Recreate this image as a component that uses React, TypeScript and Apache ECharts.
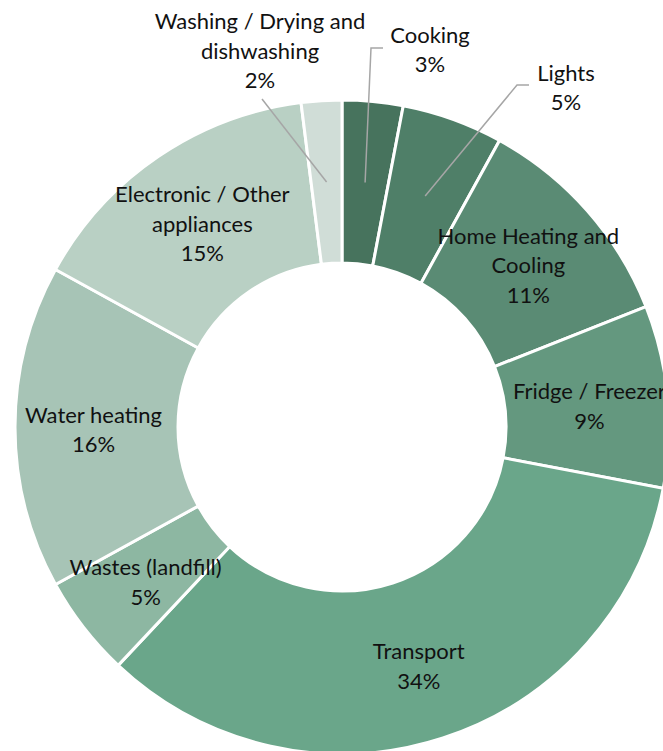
import React, { useEffect, useRef } from "react";
import * as echarts from "echarts";

const categories = [
  "Cooking",
  "Lights",
  "Home Heating and\nCooling",
  "Fridge / Freezer",
  "Transport",
  "Wastes (landfill)",
  "Water heating",
  "Electronic / Other\nappliances",
  "Washing / Drying and\ndishwashing",
];
const values = [3, 5, 11, 9, 34, 5, 16, 15, 2];
const colors = [
  "#47735d",
  "#4f7f68",
  "#5a8b74",
  "#64987f",
  "#6aa68a",
  "#8db7a2",
  "#a7c4b6",
  "#b9d0c4",
  "#d0ddd7",
];

// indices with outside labels and their label anchor / leader bend (layout only)
const outside: Record<number, { lx: number; ly: number; pts: number[][] }> = {
  0: { lx: 430, ly: 49, pts: [[371, 48], [383, 48]] },
  1: { lx: 566, ly: 87, pts: [[517, 85], [529, 85]] },
  8: { lx: 260, ly: 50, pts: [[262, 99]] },
};

const W = 663;
const H = 751;
const CX = 342;
const CY = 427;
const R0 = 164;
const R1 = 327;

export default function App() {
  const ref = useRef<HTMLDivElement>(null);
  useEffect(() => {
    document.body.style.margin = "0";
    if (!ref.current) return;
    const chart = echarts.init(ref.current, null, { renderer: "svg" });
    const total = values.reduce((a, b) => a + b, 0);
    const midPoint = (i: number) => {
      let before = 0;
      for (let k = 0; k < i; k++) before += values[k];
      const frac = (before + values[i] / 2) / total;
      const th = frac * Math.PI * 2;
      const rm = (R0 + R1) / 2;
      return [CX + rm * Math.sin(th), CY - rm * Math.cos(th)];
    };
    const leaders = Object.keys(outside).map((k) => {
      const i = Number(k);
      return {
        type: "polyline",
        z: 100,
        silent: true,
        shape: { points: [midPoint(i), ...outside[i].pts] },
        style: { stroke: "#a6a6a6", lineWidth: 1.5, fill: "none" },
      };
    });
    chart.setOption({
      animation: false,
      graphic: leaders,
      series: [
        {
          type: "pie",
          center: [CX, CY],
          radius: [R0, R1],
          startAngle: 90,
          clockwise: true,
          avoidLabelOverlap: false,
          itemStyle: { borderColor: "#ffffff", borderWidth: 3 },
          label: {
            show: true,
            position: "inside",
            formatter: "{b}\n{c}%",
            color: "#111111",
            fontFamily: "Lato",
            fontSize: 22,
            lineHeight: 29.5,
            align: "center",
            offset: [0, 2],
          },
          labelLine: { show: false },
          labelLayout: (params: any) => {
            const o = outside[params.dataIndex];
            if (!o) return {};
            return {
              x: o.lx,
              y: o.ly,
              align: "center",
              verticalAlign: "middle",
            };
          },
          emphasis: { disabled: true },
          data: categories.map((name, i) => ({
            name,
            value: values[i],
            itemStyle: { color: colors[i] },
            label: outside[i] ? { position: "outside" } : undefined,
          })),
        },
      ],
    });
    return () => chart.dispose();
  }, []);
  return <div ref={ref} style={{ width: W, height: H }} />;
}
